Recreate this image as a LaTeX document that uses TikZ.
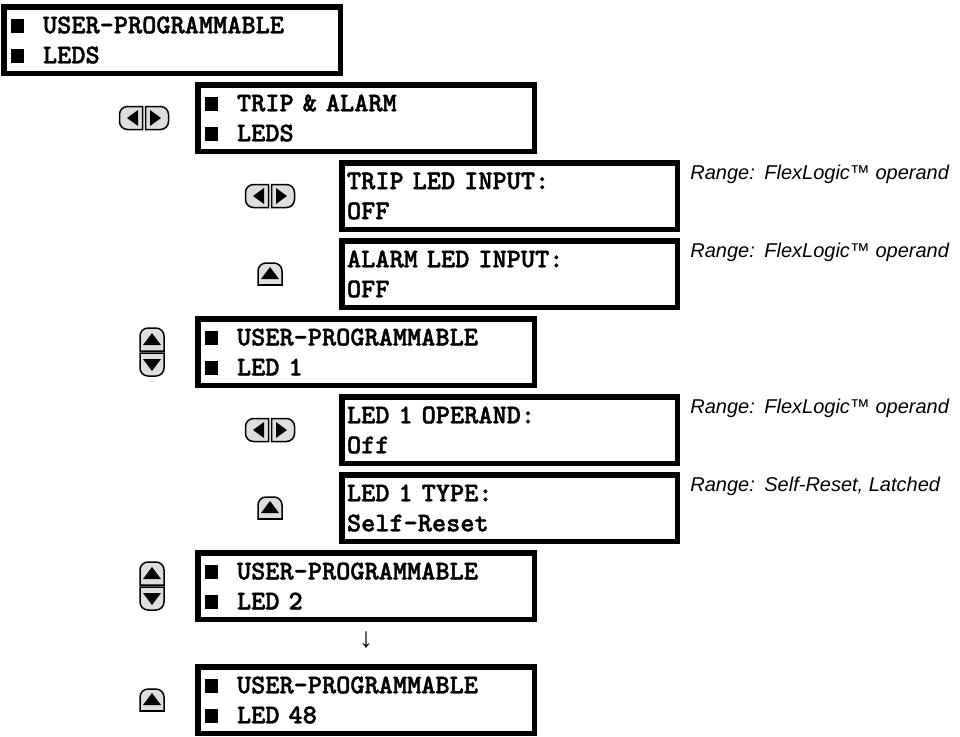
\documentclass[tikz,border=0pt]{standalone}
\usepackage{fontspec}
\usepackage{xcolor}
\usepackage{tikz}
\usetikzlibrary{calc}
\newfontfamily\rangefont{Liberation Sans}
\newfontfamily\arrowfont{Liberation Serif}
\newfontfamily\lcdfont{lmmonolt10-bold.otf}[FakeBold=1.5]
\definecolor{keygray}{RGB}{222,222,222}
\newcommand{\lcd}{\lcdfont\fontsize{13.5}{15}\selectfont}
\newcommand{\bul}{\rule{6.5pt}{7pt}\hspace{9.5pt}}

\begin{document}
\begin{tikzpicture}[x=0.5pt,y=-0.5pt,
  hdr/.style={draw,line width=2.75pt,minimum width=168.25pt,minimum height=33.25pt,inner xsep=3.625pt,inner ysep=0pt,text width=161pt,align=left,font=\lcd},
  setbox/.style={draw,line width=2.75pt,minimum width=167.75pt,minimum height=33.25pt,inner xsep=2.625pt,inner ysep=0pt,text width=162.5pt,align=left,font=\lcd},
  rng/.style={anchor=base west,inner sep=0pt,font=\rangefont\itshape\fontsize{10}{12}\selectfont},
  key/.style={fill=keygray,draw=black,line width=0.75pt},
  lrkey/.pic={
    \filldraw[key] (-1.5,-11.5) -- (-16.5,-11.5) arc[start angle=270,end angle=180,radius=8] -- (-24.5,3.5) arc[start angle=180,end angle=90,radius=8] -- (-1.5,11.5) -- cycle;
    \filldraw[key] (1.5,-11.5) -- (16.5,-11.5) arc[start angle=270,end angle=360,radius=8] -- (24.5,3.5) arc[start angle=0,end angle=90,radius=8] -- (1.5,11.5) -- cycle;
    \fill (-17,0) -- (-6,-8) -- (-6,8) -- cycle;
    \fill (17,0) -- (6,-8) -- (6,8) -- cycle;
  },
  upkey/.pic={
    \filldraw[key] (-12,11) -- (-12,-3) arc[start angle=180,end angle=270,radius=8] -- (4,-11) arc[start angle=270,end angle=360,radius=8] -- (12,11) -- cycle;
    \fill (0,-7) -- (9,5) -- (-9,5) -- cycle;
    \draw[line width=1.25pt] (-12,11) -- (12,11);
  },
  udkey/.pic={
    \filldraw[key] (-12,-1) -- (-12,-16) arc[start angle=180,end angle=270,radius=8] -- (4,-24) arc[start angle=270,end angle=360,radius=8] -- (12,-1) -- cycle;
    \filldraw[key] (-12,1) -- (-12,16) arc[start angle=180,end angle=90,radius=8] -- (4,24) arc[start angle=90,end angle=0,radius=8] -- (12,1) -- cycle;
    \fill (0,-19) -- (9,-7) -- (-9,-7) -- cycle;
    \fill (0,19) -- (9,7) -- (-9,7) -- cycle;
  }]
  \useasboundingbox (0,0) rectangle (960,736);
  % menu boxes
  \node[hdr] (menu) at (172,40) {\bul USER-PROGRAMMABLE\\\bul LEDS};
  \node[hdr] (tripalarm) at (366,118) {\bul TRIP \& ALARM\\\bul LEDS};
  \node[setbox] (tripin) at (509.5,196) {TRIP LED INPUT:\\OFF};
  \node[setbox] (alarmin) at (509.5,274) {ALARM LED INPUT:\\OFF};
  \node[hdr] (led1) at (366,352) {\bul USER-PROGRAMMABLE\\\bul LED 1};
  \node[setbox] (led1op) at (509.5,430) {LED 1 OPERAND:\\Off};
  \node[setbox] (led1type) at (509.5,508) {LED 1 TYPE:\\Self-Reset};
  \node[hdr] (led2) at (366,586) {\bul USER-PROGRAMMABLE\\\bul LED 2};
  \node[font=\arrowfont\fontsize{14}{16}\selectfont] (more) at (366,640) {↓};
  \node[hdr] (led48) at (366,700) {\bul USER-PROGRAMMABLE\\\bul LED 48};
  % ranges
  \node[rng] (tripinrng) at ($(tripin.north east)+(10,19.5)$) {\makebox[37pt][l]{Range:}FlexLogic™ operand};
  \node[rng] (alarminrng) at ($(alarmin.north east)+(10,19.5)$) {\makebox[37pt][l]{Range:}FlexLogic™ operand};
  \node[rng] (led1oprng) at ($(led1op.north east)+(10,19.5)$) {\makebox[37pt][l]{Range:}FlexLogic™ operand};
  \node[rng] (led1typerng) at ($(led1type.north east)+(10,19.5)$) {\makebox[37pt][l]{Range:}Self-Reset, Latched};
  % keys
  \pic (k1) at (144,118) {lrkey};
  \pic (k2) at (270,196) {lrkey};
  \pic (k3) at (270,274) {upkey};
  \pic (k4) at (152,352) {udkey};
  \pic (k5) at (270,430) {lrkey};
  \pic (k6) at (270,508) {upkey};
  \pic (k7) at (152,586) {udkey};
  \pic (k8) at (152,700) {upkey};
\end{tikzpicture}
\end{document}
